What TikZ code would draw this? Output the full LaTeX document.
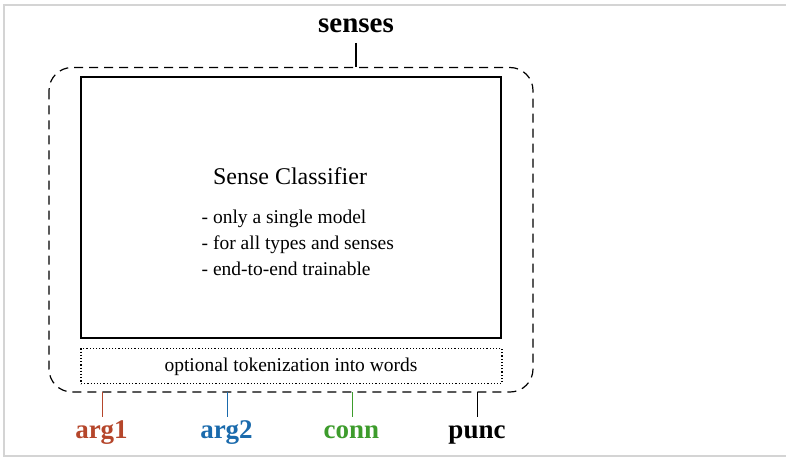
\documentclass[tikz,border=0pt]{standalone}
\usepackage{fontspec}
\setmainfont{Liberation Serif}
\definecolor{argone}{HTML}{B5462B}
\definecolor{argtwo}{HTML}{1A6AAC}
\definecolor{conncol}{HTML}{3D9C2C}
\definecolor{framegray}{HTML}{D4D4D4}
\begin{document}
\begin{tikzpicture}[x=1pt,y=-1pt,
  lbl/.style={anchor=base,inner sep=0pt,font=\fontsize{27}{30}\selectfont\bfseries},
  txt/.style={anchor=base,inner sep=0pt,font=\fontsize{19.5}{22}\selectfont},
  tick/.style={line width=1.5pt},
  outer/.style={draw,line width=1.2pt,dash pattern=on 9pt off 6pt,rounded corners=23pt},
  inner/.style={draw,line width=1.2pt},
  tokbox/.style={draw,line width=1.2pt,dotted}]
\useasboundingbox (0,0) rectangle (786,457);
\draw[framegray,line width=2pt] (790,5) -- (4,5) -- (4,455.5) -- (790,455.5);
% outer dashed box
\draw[outer] (49,67.5) rectangle (533,392);
\coordinate (outtop) at (356,67.5);
% inner box
\node[inner,minimum width=420pt,minimum height=261pt,inner sep=0pt] (clf) at (291,207.5) {};
\node[tokbox,minimum width=421pt,minimum height=35pt,inner sep=0pt] (tok) at (291.5,366) {};
\node[txt] (toktext) at (291,371.5) {optional tokenization into words};
\node[anchor=base,inner sep=0pt,font=\fontsize{24}{28}\selectfont] (title) at (290,185) {Sense Classifier};
\node[txt,anchor=base west] (b1) at (201.5,223.5) {- only a single model};
\node[txt,anchor=base west] (b2) at (201.5,249.5) {- for all types and senses};
\node[txt,anchor=base west] (b3) at (201.5,275) {- end-to-end trainable};
% top label
\node[lbl,font=\fontsize{29}{32}\selectfont\bfseries] (senses) at (356,33) {senses};
\coordinate (sensesb) at (356,43);
\draw[tick] (sensesb) -- (outtop);
% bottom labels
\node[lbl,text=argone] (arg1) at (101.5,438) {arg1};
\node[lbl,text=argtwo] (arg2) at (226.5,438) {arg2};
\node[lbl,text=conncol] (conn) at (351.5,438) {conn};
\node[lbl] (punc) at (477,438) {punc};
\coordinate (a1t) at (102.5,392); \coordinate (a1b) at (102.5,417);
\coordinate (a2t) at (227.5,392); \coordinate (a2b) at (227.5,417);
\coordinate (cot) at (352.5,392); \coordinate (cob) at (352.5,417);
\coordinate (put) at (477.5,392); \coordinate (pub) at (477.5,417);
\draw[tick,argone] (a1t) -- (a1b);
\draw[tick,argtwo] (a2t) -- (a2b);
\draw[tick,conncol] (cot) -- (cob);
\draw[tick] (put) -- (pub);
\end{tikzpicture}
\end{document}
